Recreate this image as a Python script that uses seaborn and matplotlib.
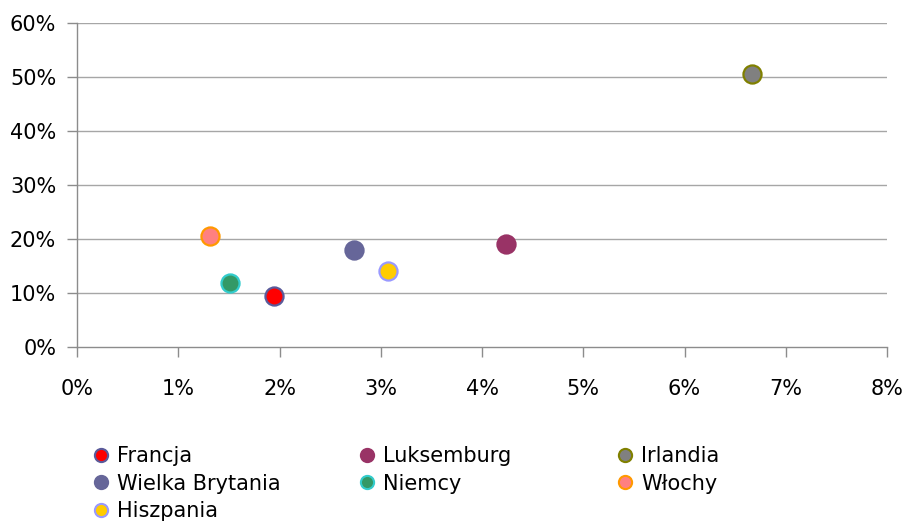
import matplotlib
matplotlib.use("Agg")
import matplotlib.pyplot as plt
from matplotlib.lines import Line2D
from matplotlib.ticker import PercentFormatter
import seaborn as sns
import pandas as pd

# Countries with GDP-share (x) and growth (y), both in percent
countries = ["Francja", "Luksemburg", "Irlandia", "Wielka Brytania",
             "Niemcy", "Włochy", "Hiszpania"]
x_vals = [1.95, 4.24, 6.67, 2.74, 1.51, 1.31, 3.07]
y_vals = [9.5, 19.1, 50.6, 18.0, 11.85, 20.6, 14.0]

fill_colors = ["#FF0000", "#993366", "#808080", "#666699",
               "#339966", "#FF8080", "#FFCC00"]
edge_colors = ["#5A5A9A", "#993366", "#808000", "#666699",
               "#33CCCC", "#FF9900", "#9999FF"]

x_ticks = [0, 1, 2, 3, 4, 5, 6, 7, 8]
y_ticks = [0, 10, 20, 30, 40, 50, 60]

df = pd.DataFrame({"kraj": countries, "x": x_vals, "y": y_vals})

sns.set_theme(style="white")
plt.rcParams["font.family"] = ["DejaVu Sans"]
plt.rcParams["text.color"] = "black"

FS = 15

fig = plt.figure(figsize=(9.05, 5.22), dpi=100)
ax = fig.add_axes([77 / 905, 1 - 347 / 522, (887 - 77) / 905, (347 - 23) / 522])

grid_c = "#A6A6A6"
for y in y_ticks[1:]:
    ax.axhline(y, color=grid_c, lw=1.0, zorder=0)

for i, row in df.iterrows():
    sns.scatterplot(x=[row["x"]], y=[row["y"]], ax=ax, s=170,
                    color=fill_colors[i], edgecolor=edge_colors[i],
                    linewidth=1.6, zorder=3, legend=False)

ax.set_xlim(0, 8)
ax.set_ylim(0, 60)
ax.set_xticks(x_ticks)
ax.set_yticks(y_ticks)
ax.xaxis.set_major_formatter(PercentFormatter(decimals=0))
ax.yaxis.set_major_formatter(PercentFormatter(decimals=0))
ax.set_xlabel("")
ax.set_ylabel("")

for side in ["top", "right"]:
    ax.spines[side].set_visible(False)
for side in ["left", "bottom"]:
    ax.spines[side].set_color("#8C8C8C")
    ax.spines[side].set_linewidth(1.0)

ax.tick_params(axis="both", which="major", direction="out", length=7,
               width=1.0, color="#8C8C8C", labelsize=FS, labelcolor="black",
               bottom=True, left=True)
ax.tick_params(axis="x", pad=9)
ax.tick_params(axis="y", pad=8)
ax.tick_params(axis="x", pad=16)

# Legend laid out in three columns, filled row by row
columns = [[0, 3, 6], [1, 4], [2, 5]]
col_x = [93 / 905, 359 / 905, 617 / 905]
for cx, idxs in zip(col_x, columns):
    handles = [Line2D([], [], linestyle="none", marker="o", markersize=9.5,
                      markerfacecolor=fill_colors[i], markeredgecolor=edge_colors[i],
                      markeredgewidth=1.5) for i in idxs]
    labels = [countries[i] for i in idxs]
    fig.legend(handles, labels, loc="upper left", bbox_to_anchor=(cx, 1 - 446 / 522),
               frameon=False, fontsize=FS, handlelength=0.8, handletextpad=0.35,
               labelspacing=0.36, borderpad=0, borderaxespad=0, labelcolor="black")

fig.savefig("out.png", dpi=100)
